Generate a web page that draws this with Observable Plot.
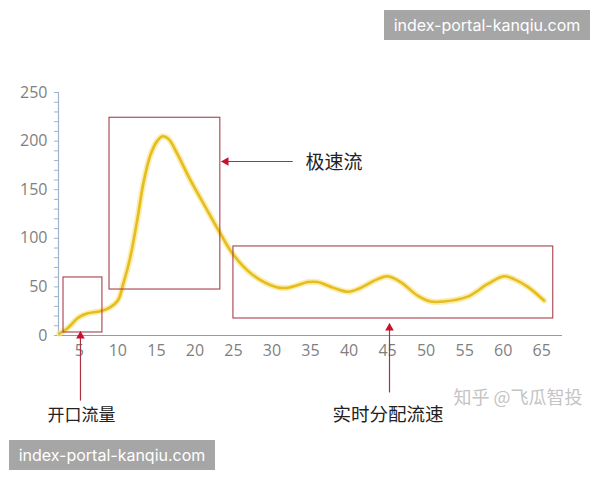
<!DOCTYPE html>
<html>
<head>
<meta charset="utf-8">
<script src="https://cdn.jsdelivr.net/npm/d3@7"></script>
<script src="https://cdn.jsdelivr.net/npm/@observablehq/plot@0.6"></script>
<style>
  html, body { margin: 0; padding: 0; background: #fff; }
  #wrap { position: relative; width: 600px; height: 480px; }
  .wm { position: absolute; background: #a6a6a6; color: #fff; font-family: Inter, "Noto Sans", sans-serif; font-size: 16px; line-height: 30px; height: 30px; width: 206px; text-align: center; }
</style>
</head>
<body>
<div id="wrap">
  <div id="chart"></div>
  <div class="wm" style="left:384px; top:10px;">index-portal-kanqiu.com</div>
  <div class="wm" style="left:9px; top:440px;">index-portal-kanqiu.com</div>
</div>
<script>
// Curve samples (x = time step, y = flow)
const xs = [2.4, 3.4, 4.9, 6, 7.7, 9, 10, 10.7, 11.6, 12.5, 13.3, 14.2, 15.1, 15.8, 16.6, 17.7, 19.4, 21.1, 23.3, 25, 27.4, 30.5, 32, 34.7, 35.9, 38, 39.9, 41.5, 43.7, 45, 46.7, 48.9, 50.6, 52.3, 55.4, 58, 60.1, 61.4, 63.2, 65.3];
const ys = [2, 7, 18.5, 22.6, 25, 29, 36, 53, 80, 118, 156, 185, 200, 205, 202, 187, 160, 136, 105, 83, 63, 50, 49, 55, 55, 49, 45, 49, 58, 61, 55, 41, 35, 35, 40, 53, 61, 58, 50, 36];

const xTicks = [5, 10, 15, 20, 25, 30, 35, 40, 45, 50, 55, 60, 65];
const yTicks = [0, 50, 100, 150, 200, 250];
const yMinorTicks = d3.range(0, 251, 10);
const xDomain = [2.3, 67.7];
const yDomain = [0, 250];

// Highlight boxes (data units)
const boxX1 = [2.95, 8.92, 25.0];
const boxX2 = [8.0, 23.3, 66.5];
const boxY1 = [3.1, 47.3, 17.5];
const boxY2 = [59.7, 224, 91.6];

// Annotation arrows (tail -> tip, data units)
const arrowX1 = [32.7, 5.15, 45.25];
const arrowY1 = [179, -67, -58.6];
const arrowX2 = [23.45, 5.15, 45.25];
const arrowY2 = [179, 4.1, 12.3];
const arrowDir = ["left", "up", "up"];

// Annotation labels
const labelText = ["极速流", "开口流量", "实时分配流速"];
const labelX = [34.35, 0.87, 37.85];
const labelY = [178, -82.3, -82.3];
const labelSize = [19, 17, 18.5];

const creditText = ["知乎 @飞瓜智投"];
const creditX = [53.56];
const creditY = [-64.8];

const curve = xs.map((x, i) => ({x, y: ys[i]}));
const boxes = boxX1.map((x1, i) => ({x1, x2: boxX2[i], y1: boxY1[i], y2: boxY2[i]}));
const arrows = arrowX1.map((x1, i) => ({x1, y1: arrowY1[i], x2: arrowX2[i], y2: arrowY2[i], dir: arrowDir[i]}));
const labels = labelText.map((t, i) => ({t, x: labelX[i], y: labelY[i], s: labelSize[i]}));
const credits = creditText.map((t, i) => ({t, x: creditX[i], y: creditY[i]}));

const cjk = "'Noto Sans CJK SC', 'Noto Sans', sans-serif";

const chart = Plot.plot({
  width: 600,
  height: 480,
  marginTop: 92,
  marginBottom: 145,
  marginLeft: 58,
  marginRight: 38,
  x: {domain: xDomain},
  y: {domain: yDomain},
  style: {fontFamily: "'Open Sans', 'Noto Sans', sans-serif", background: "#fff", overflow: "visible"},
  marks: [
    Plot.axisY({ticks: yMinorTicks, tickSize: 4, tickPadding: 7, tickFormat: d => yTicks.includes(d) ? String(d) : "", stroke: "#9fb3cc", fill: "#7f7f7f", fontSize: 16, label: null}),
    Plot.axisX({ticks: xTicks, tickSize: 0, tickPadding: 9, fill: "#7f7f7f", fontSize: 16, label: null}),
    Plot.ruleY([0], {stroke: "#9a9a9a", strokeWidth: 1.2}),
    Plot.ruleX([xDomain[0]], {y1: yDomain[0], y2: yDomain[1], stroke: "#9fb3cc", strokeWidth: 1.2}),
    Plot.line(curve, {x: "x", y: "y", curve: "catmull-rom", stroke: "#f6e58e", strokeWidth: 6, strokeOpacity: 0.7}),
    Plot.line(curve, {x: "x", y: "y", curve: "catmull-rom", stroke: "#e6bd1c", strokeWidth: 2.6}),
    Plot.rect(boxes, {x1: "x1", x2: "x2", y1: "y1", y2: "y2", fill: "none", stroke: "#a8404c", strokeWidth: 1.1}),
    Plot.link(arrows, {x1: "x1", y1: "y1", x2: "x2", y2: "y2", stroke: "#a8323f", strokeWidth: 1.2, clip: false}),
    Plot.dot(arrows.filter(d => d.dir === "up"), {x: "x2", y: "y2", symbol: "triangle", r: 3.2, fill: "#c8102e", stroke: "none", dy: 4.5, clip: false}),
    Plot.dot(arrows.filter(d => d.dir === "left"), {x: "x2", y: "y2", symbol: "triangle", r: 3.2, fill: "#c8102e", stroke: "none", dx: 4.5, rotate: -90, clip: false}),
    Plot.text(labels, {x: "x", y: "y", text: "t", fontSize: d => d.s, textAnchor: "start", fill: "#222", fontFamily: cjk, clip: false}),
    Plot.text(credits, {x: "x", y: "y", text: "t", fontSize: 18, textAnchor: "start", fill: "#c4c4c4", fontFamily: cjk, clip: false})
  ]
});
document.getElementById("chart").appendChild(chart);
</script>
</body>
</html>
